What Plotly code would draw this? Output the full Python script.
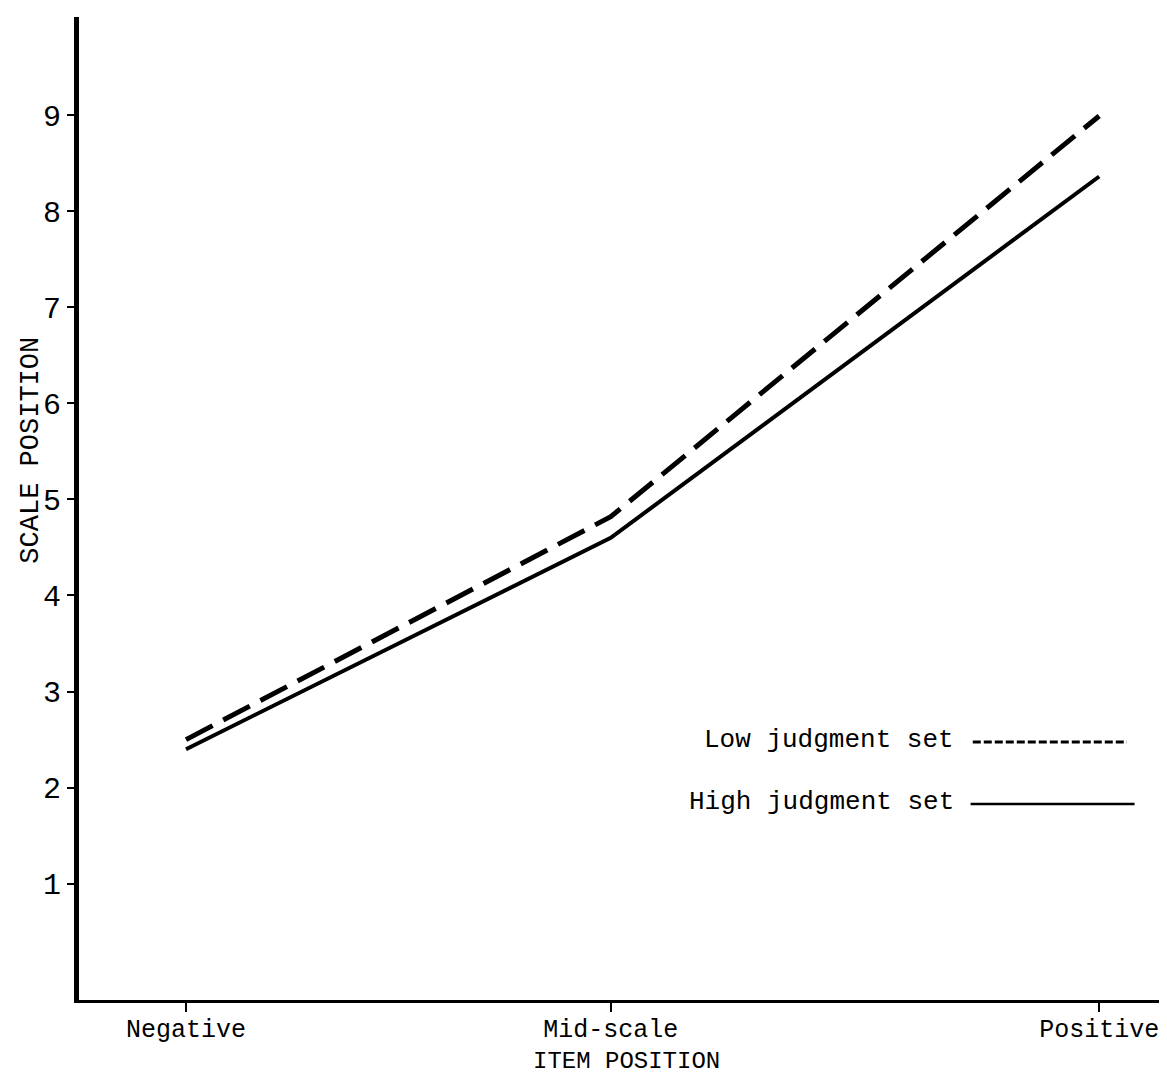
import plotly.graph_objects as go

# Data
categories = ["Negative", "Mid-scale", "Positive"]
item_x = [1.0, 2.0, 3.15]          # horizontal spacing of the three item positions
low_judgment = [2.50, 4.82, 8.99]  # dashed line
high_judgment = [2.40, 4.60, 8.36] # solid line
y_ticks = [1, 2, 3, 4, 5, 6, 7, 8, 9]

MONO = "Liberation Mono, Courier New, monospace"

fig = go.Figure()
fig.add_trace(go.Scatter(
    x=item_x, y=low_judgment, mode="lines", name="Low judgment set",
    line=dict(color="black", width=5, dash="30px,12px"),
))
fig.add_trace(go.Scatter(
    x=item_x, y=high_judgment, mode="lines", name="High judgment set",
    line=dict(color="black", width=4),
))

# Legend drawn as text + sample lines (as in the original typed figure)
fig.add_annotation(xref="paper", yref="paper", x=0.8076, y=0.2645, xanchor="right", yanchor="middle",
                   text="Low judgment set", showarrow=False, font=dict(family=MONO, size=26, color="black"))
fig.add_annotation(xref="paper", yref="paper", x=0.8076, y=0.2014, xanchor="right", yanchor="middle",
                   text="High judgment set", showarrow=False, font=dict(family=MONO, size=26, color="black"))
fig.add_shape(type="line", xref="paper", yref="paper", x0=0.823, x1=0.965, y0=0.2625, y1=0.2625,
              line=dict(color="black", width=3, dash="8px,3px"))
fig.add_shape(type="line", xref="paper", yref="paper", x0=0.821, x1=0.972, y0=0.1995, y1=0.1995,
              line=dict(color="black", width=2.5))

# Axis titles
fig.add_annotation(xref="paper", yref="paper", x=0.504, y=-0.063, xanchor="center", yanchor="middle",
                   text="ITEM POSITION", showarrow=False, font=dict(family=MONO, size=24, color="black"))
fig.add_annotation(xref="paper", yref="paper", x=-0.045, y=0.559, xanchor="center", yanchor="middle",
                   text="SCALE POSITION", textangle=-90, showarrow=False,
                   font=dict(family=MONO, size=27, color="black"))

fig.update_layout(
    width=1167, height=1078,
    margin=dict(l=71, r=10, t=9, b=86),
    paper_bgcolor="white", plot_bgcolor="white",
    showlegend=False,
    font=dict(family=MONO, color="black"),
)
fig.update_xaxes(
    range=[0.748, 3.305], tickvals=item_x, ticktext=categories, automargin=False,
    showgrid=False, zeroline=False, showline=True, linecolor="black", linewidth=3,
    ticks="outside", ticklen=9, tickwidth=2, tickcolor="black", ticklabelstandoff=-5,
    tickfont=dict(family=MONO, size=25, color="black"),
)
fig.update_yaxes(
    range=[-0.21, 10.02], tickvals=y_ticks, automargin=False,
    showgrid=False, zeroline=False, showline=True, linecolor="black", linewidth=5,
    ticks="outside", ticklen=7, tickwidth=2, tickcolor="black",
    tickfont=dict(family=MONO, size=30, color="black"),
)

fig.write_html("out.html")
